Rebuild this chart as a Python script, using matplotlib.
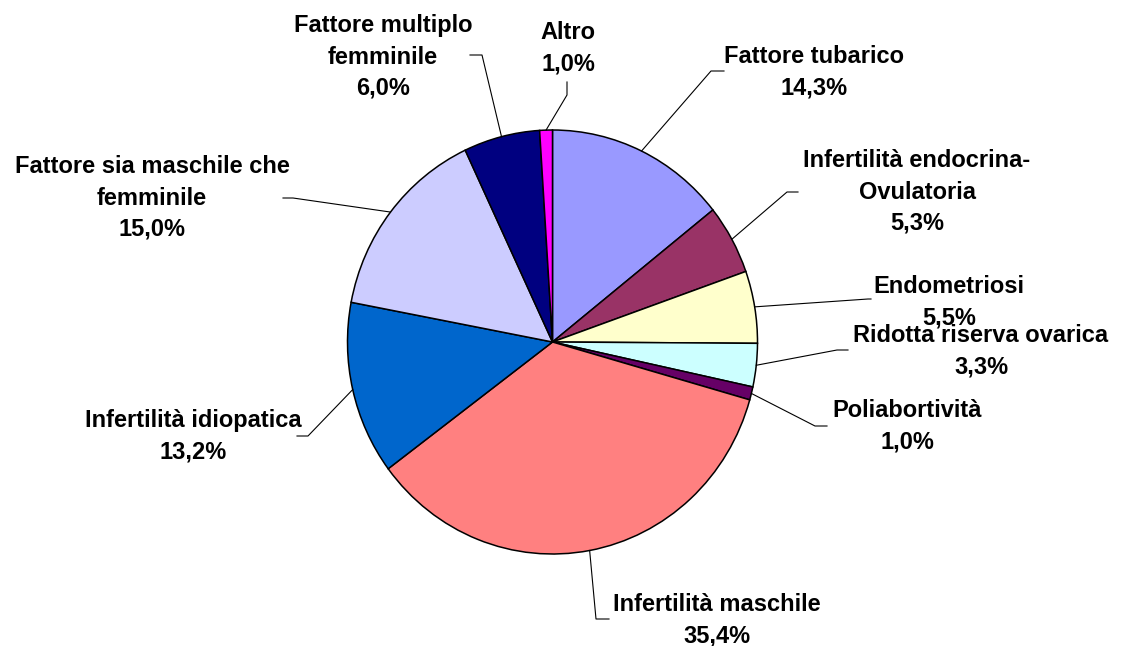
import numpy as np
import matplotlib.pyplot as plt

plt.rcParams['font.family'] = ['Liberation Sans', 'DejaVu Sans']

etichette = ['Fattore tubarico', 'Infertilità endocrina-\nOvulatoria', 'Endometriosi',
             'Ridotta riserva ovarica', 'Poliabortività', 'Infertilità maschile',
             'Infertilità idiopatica', 'Fattore sia maschile che\nfemminile',
             'Fattore multiplo\nfemminile', 'Altro']
valori = [14.3, 5.3, 5.5, 3.3, 1.0, 35.4, 13.2, 15.0, 6.0, 1.0]
colori = ['#9999FF', '#993366', '#FFFFCC', '#CCFFFF', '#660066',
          '#FF8080', '#0066CC', '#CCCCFF', '#000080', '#FF00FF']

# posizione del testo (centro del blocco) e del gomito della linea guida, in pixel
pos_testo = [(814, 72), (917, 192), (949, 302), (981, 351), (907, 426),
             (717, 620), (193, 436), (152, 198), (383, 57), (568, 48)]
gomiti = [((711, 71), (724, 71)), ((787, 192), (798, 192)), ((868, 299), (871, 299)),
          ((837, 350), (848, 350)), ((815, 426), (827, 426)), ((596, 619), (609, 619)),
          ((308, 436), (297, 436)), ((293, 198), (283, 198)), ((482, 55), (470, 55)),
          ((567, 95), (567, 82))]

W, H = 1121, 646
k = 205 / 212  # la torta e' leggermente allungata in verticale
cx, cy, r = 552.5, 342 * k, 205

fig = plt.figure(figsize=(W / 100, H / 100), dpi=100)
ax = fig.add_axes([0, 0, 1, 1])
wedges, _ = ax.pie(valori, colors=colori, startangle=-90, counterclock=True,
                   center=(cx, cy), radius=r, frame=True,
                   wedgeprops=dict(edgecolor='black', linewidth=1.1))
ax.set_xlim(0, W)
ax.set_ylim(H * k, 0)
ax.set_aspect('auto')
ax.axis('off')

for w, lab, v, (tx, ty), (g1, g2) in zip(wedges, etichette, valori, pos_testo, gomiti):
    a = np.deg2rad((w.theta1 + w.theta2) / 2)
    x0, y0 = cx + r * np.cos(a), cy + r * np.sin(a)
    ax.plot([x0, g1[0], g2[0]], [y0, g1[1] * k, g2[1] * k], color='black', lw=0.8)
    testo = lab + '\n' + f'{v:.1f}%'.replace('.', ',')
    ax.text(tx, ty * k, testo, ha='center', va='center', multialignment='center',
            fontsize=17, fontweight='bold', linespacing=1.45)

fig.savefig('out.png', dpi=100)
